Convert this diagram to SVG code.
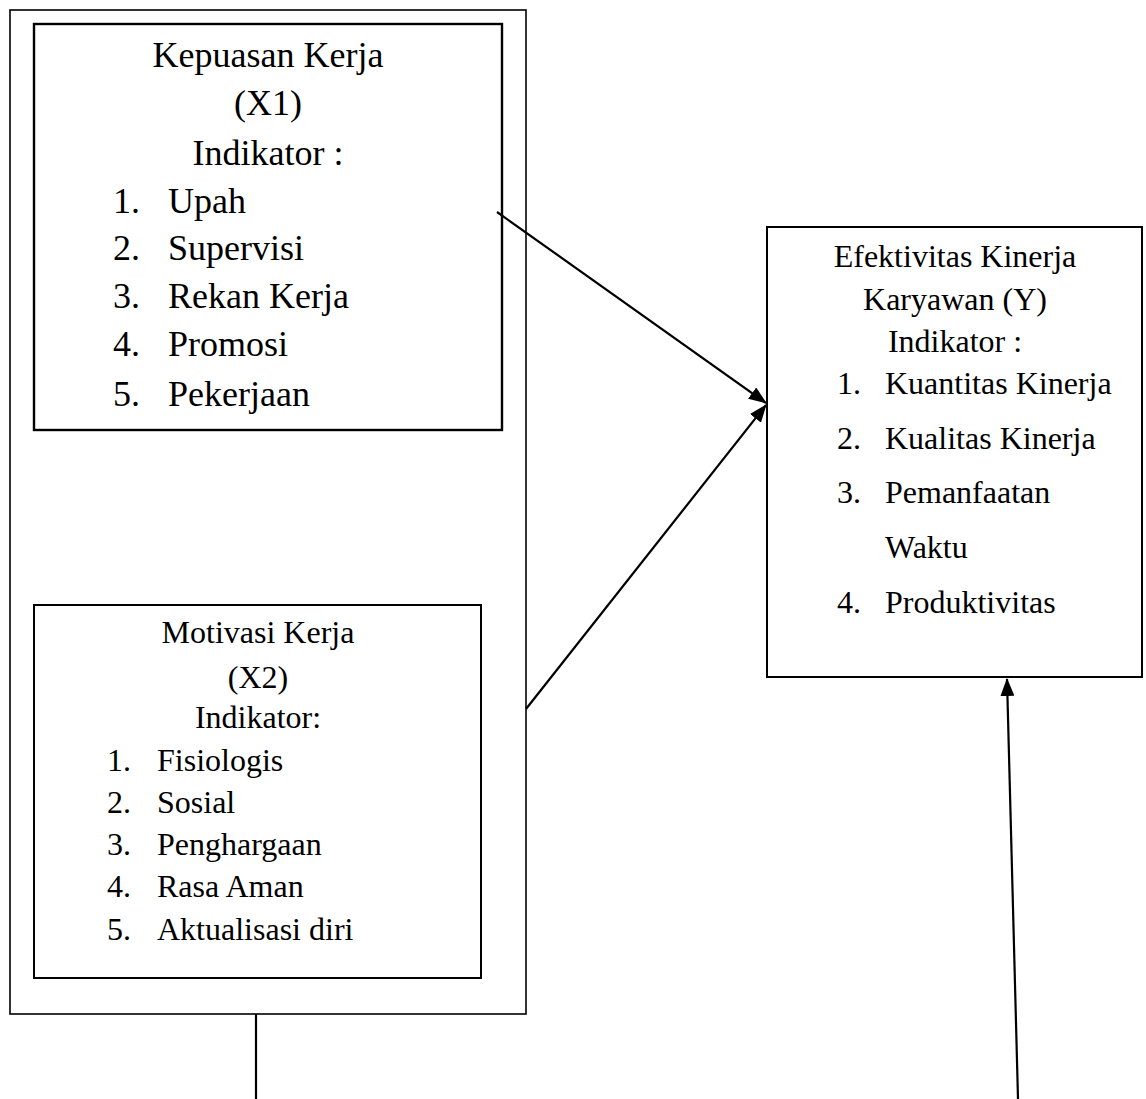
<svg xmlns="http://www.w3.org/2000/svg" width="1146" height="1099" viewBox="0 0 1146 1099">
  <style>
    .box { fill: none; stroke: #000; }
    .t { font-family: "Liberation Serif", "Times New Roman", serif; fill: #000; }
    .big { font-size: 36px; }
    .small { font-size: 32px; }
    .c { text-anchor: middle; }
    .link { stroke: #000; stroke-width: 2.2; fill: none; }
  </style>
  <defs>
    <marker id="head" markerUnits="userSpaceOnUse" markerWidth="18" markerHeight="14" refX="17" refY="7" orient="auto">
      <path d="M0,0 L18,7 L0,14 z" fill="#000"/>
    </marker>
  </defs>

  <!-- frame around the two independent variables -->
  <g id="group-x">
    <rect class="box" x="10" y="10" width="516" height="1004" stroke-width="1.6"/>
  </g>

  <!-- X1: job satisfaction -->
  <g id="node-x1">
    <rect class="box" x="34" y="24" width="468" height="406" stroke-width="2.4"/>
    <text class="t big c" x="268" y="67">Kepuasan Kerja</text>
    <text class="t big c" x="268" y="115">(X1)</text>
    <text class="t big c" x="268" y="165">Indikator :</text>
    <text class="t big" x="113" y="213">1.</text><text class="t big" x="168" y="213">Upah</text>
    <text class="t big" x="113" y="260">2.</text><text class="t big" x="168" y="260">Supervisi</text>
    <text class="t big" x="113" y="308">3.</text><text class="t big" x="168" y="308">Rekan Kerja</text>
    <text class="t big" x="113" y="356">4.</text><text class="t big" x="168" y="356">Promosi</text>
    <text class="t big" x="113" y="406">5.</text><text class="t big" x="168" y="406">Pekerjaan</text>
  </g>

  <!-- X2: work motivation -->
  <g id="node-x2">
    <rect class="box" x="34" y="605" width="447" height="373" stroke-width="2"/>
    <text class="t small c" x="258" y="643">Motivasi Kerja</text>
    <text class="t small c" x="258" y="688">(X2)</text>
    <text class="t small c" x="258" y="728">Indikator:</text>
    <text class="t small" x="107" y="771">1.</text><text class="t small" x="157" y="771">Fisiologis</text>
    <text class="t small" x="107" y="813">2.</text><text class="t small" x="157" y="813">Sosial</text>
    <text class="t small" x="107" y="855">3.</text><text class="t small" x="157" y="855">Penghargaan</text>
    <text class="t small" x="107" y="897">4.</text><text class="t small" x="157" y="897">Rasa Aman</text>
    <text class="t small" x="107" y="940">5.</text><text class="t small" x="157" y="940">Aktualisasi diri</text>
  </g>

  <!-- Y: employee performance effectiveness -->
  <g id="node-y">
    <rect class="box" x="767" y="227" width="375" height="450" stroke-width="2"/>
    <text class="t small c" x="955" y="267">Efektivitas Kinerja</text>
    <text class="t small c" x="955" y="310">Karyawan (Y)</text>
    <text class="t small c" x="955" y="352">Indikator :</text>
    <text class="t small" x="837" y="394">1.</text><text class="t small" x="885" y="394">Kuantitas Kinerja</text>
    <text class="t small" x="837" y="449">2.</text><text class="t small" x="885" y="449">Kualitas Kinerja</text>
    <text class="t small" x="837" y="503">3.</text><text class="t small" x="885" y="503">Pemanfaatan</text>
    <text class="t small" x="885" y="558">Waktu</text>
    <text class="t small" x="837" y="613">4.</text><text class="t small" x="885" y="613">Produktivitas</text>
  </g>

  <!-- connectors -->
  <g id="connectors">
    <line class="link" x1="497" y1="212" x2="766" y2="403" marker-end="url(#head)"/>
    <line class="link" x1="526" y1="709" x2="766" y2="405" marker-end="url(#head)"/>
    <line class="link" x1="1018" y1="1099" x2="1007" y2="679" marker-end="url(#head)"/>
    <line class="link" x1="256" y1="1014" x2="256" y2="1099"/>
  </g>
</svg>
